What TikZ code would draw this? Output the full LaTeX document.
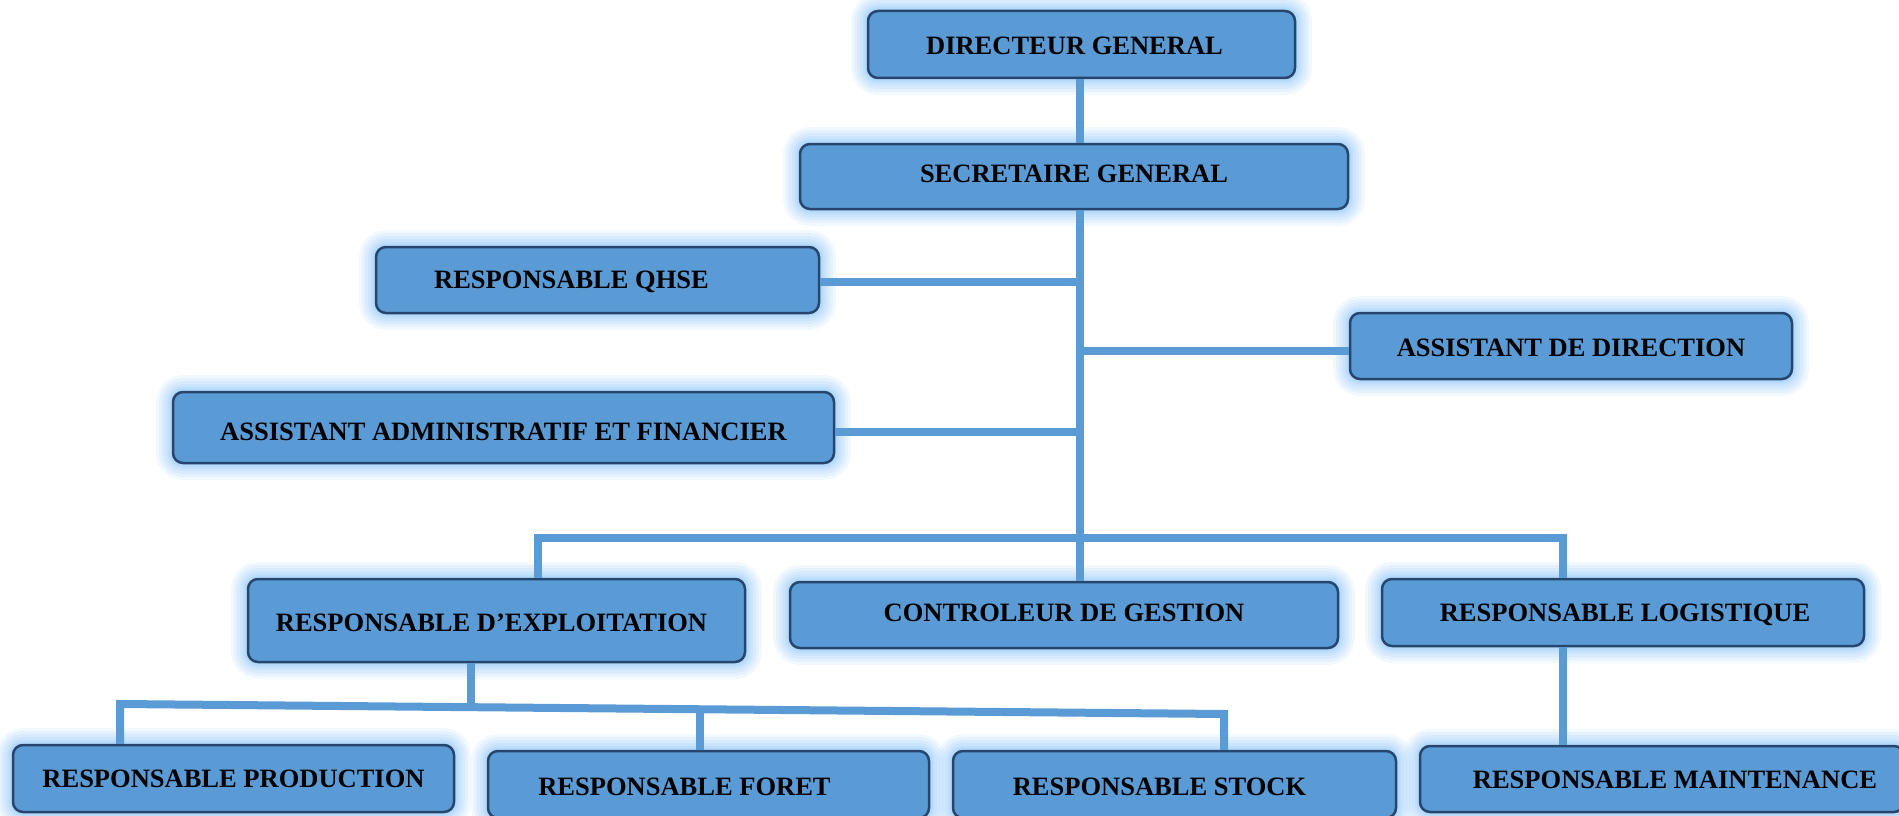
\documentclass[tikz,border=0pt]{standalone}
\usepackage{fontspec}
\setmainfont{Liberation Serif}
\definecolor{boxfill}{RGB}{91,155,213}
\definecolor{boxline}{RGB}{38,70,110}
\definecolor{glow}{RGB}{150,202,250}
\definecolor{connc}{RGB}{91,155,213}
\tikzset{
  orgbox/.style={draw=boxline, line width=2.5pt, fill=boxfill, rounded corners=10pt,
    inner sep=0pt,
    preaction={draw=glow, line width=34pt, draw opacity=0.12, fill=none},
    preaction={draw=glow, line width=28pt, draw opacity=0.14, fill=none},
    preaction={draw=glow, line width=22pt, draw opacity=0.16, fill=none},
    preaction={draw=glow, line width=16pt, draw opacity=0.18, fill=none},
    preaction={draw=glow, line width=11pt, draw opacity=0.22, fill=none},
    preaction={draw=glow, line width=7pt, draw opacity=0.30, fill=none}},
  lbl/.style={font=\fontsize{26.5}{30}\selectfont\bfseries, text=black, inner sep=0pt},
  conn/.style={draw=connc, line width=8pt}
}
\begin{document}
\begin{tikzpicture}[x=1pt,y=-1pt]
\useasboundingbox (0,0) rectangle (1899,816);
% boxes
\node[orgbox, minimum width=427pt, minimum height=67pt] (dg) at (1081.5,44.5) {};
\node[orgbox, minimum width=548pt, minimum height=65pt] (sg) at (1074,176.5) {};
\node[orgbox, minimum width=443pt, minimum height=66pt] (qhse) at (597.5,280) {};
\node[orgbox, minimum width=442pt, minimum height=66pt] (ad) at (1571,346) {};
\node[orgbox, minimum width=661pt, minimum height=71pt] (aaf) at (503.5,427.5) {};
\node[orgbox, minimum width=497pt, minimum height=83pt] (re) at (496.5,620.5) {};
\node[orgbox, minimum width=548pt, minimum height=66pt] (cg) at (1064,615) {};
\node[orgbox, minimum width=482pt, minimum height=67pt] (rl) at (1623,612.5) {};
\node[orgbox, minimum width=441pt, minimum height=67pt] (rp) at (233.5,778.5) {};
\node[orgbox, minimum width=441pt, minimum height=67pt] (rf) at (708.5,784.5) {};
\node[orgbox, minimum width=443pt, minimum height=67pt] (rs) at (1174.5,784.5) {};
\node[orgbox, minimum width=484pt, minimum height=66pt] (rm) at (1662,779) {};
% labels
\node[lbl] (dgt) at ([xshift=-7pt,yshift=-1pt]dg.center) {DIRECTEUR GENERAL};
\node[lbl] (sgt) at ([yshift=3pt]sg.center) {SECRETAIRE GENERAL};
\node[lbl] (qhset) at ([xshift=-26pt,yshift=-2pt]qhse.center) {RESPONSABLE QHSE};
\node[lbl] (adt) at ([yshift=-2pt]ad.center) {ASSISTANT DE DIRECTION};
\node[lbl] (aaft) at ([yshift=-4pt]aaf.center) {ASSISTANT ADMINISTRATIF ET FINANCIER};
\node[lbl] (ret) at ([xshift=-5pt,yshift=-2pt]re.center) {RESPONSABLE D’EXPLOITATION};
\node[lbl] (cgt) at ([yshift=2pt]cg.center) {CONTROLEUR DE GESTION};
\node[lbl] (rlt) at ([xshift=2pt,yshift=-2pt]rl.center) {RESPONSABLE LOGISTIQUE};
\node[lbl] (rpt) at (rp.center) {RESPONSABLE PRODUCTION};
\node[lbl] (rft) at ([xshift=-24pt,yshift=-2pt]rf.center) {RESPONSABLE FORET};
\node[lbl] (rst) at ([xshift=-15pt,yshift=-2pt]rs.center) {RESPONSABLE STOCK};
\node[lbl] (rmt) at ([xshift=13pt,yshift=-1pt]rm.center) {RESPONSABLE MAINTENANCE};
% connector coordinates
\coordinate (trunk) at (1080,300);
\coordinate (busL) at (538,538);
\coordinate (busR) at (1563,538);
\coordinate (sbL) at (120,704);
\coordinate (sbR) at (1224,714);
\coordinate (sbE) at (471,707);
\coordinate (sbF) at (700,709);
% connectors
\draw[conn] (dg.south -| trunk) -- (sg.north -| trunk);
\draw[conn] (sg.south -| trunk) -- (cg.north -| trunk);
\draw[conn] ([yshift=-2pt]qhse.east) -- ([yshift=-2pt]qhse.east -| trunk);
\draw[conn] ([yshift=-5pt]ad.west) -- ([yshift=-5pt]ad.west -| trunk);
\draw[conn] ([yshift=-4pt]aaf.east) -- ([yshift=-4pt]aaf.east -| trunk);
\draw[conn] (re.north -| busL) -- (busL) -- (busR) -- (rl.north -| busR);
\draw[conn] (re.south -| sbE) -- (sbE);
\draw[conn] (rp.north -| sbL) -- (sbL) -- (sbR) -- (rs.north -| sbR);
\draw[conn] (sbF) -- (rf.north -| sbF);
\draw[conn] (rl.south -| busR) -- (rm.north -| busR);
\end{tikzpicture}
\end{document}
